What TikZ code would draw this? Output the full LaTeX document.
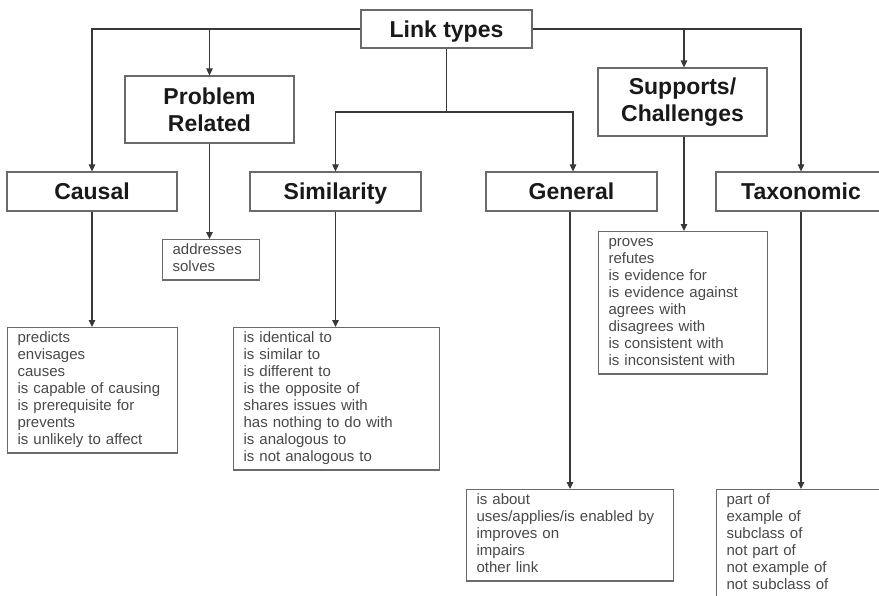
\documentclass[tikz,border=0pt]{standalone}
\usepackage{fontspec}
\setmainfont{Liberation Sans}
\usetikzlibrary{arrows.meta}
\definecolor{boxline}{HTML}{6A6A6A}
\definecolor{conline}{HTML}{383838}
\definecolor{listtext}{HTML}{484848}
\tikzset{
  head/.style={draw=boxline, line width=1.2pt, inner sep=0pt, fill=white,
    font=\fontsize{23}{27}\selectfont\bfseries, text=black!90, align=center},
  onehead/.style={head, text height=21pt, text depth=4.6pt},
  listbox/.style={draw=boxline, line width=1.2pt, anchor=north west, align=left,
    inner xsep=10pt, inner ysep=3.2pt, font=\fontsize{15}{17}\selectfont, text=listtext},
  conn/.style={draw=conline, line width=1.1pt, -{Triangle[length=7pt,width=6.5pt]}},
  plain/.style={draw=conline, line width=1.1pt}
}
\begin{document}
\begin{tikzpicture}[x=1pt,y=-1pt]
\useasboundingbox (0,0) rectangle (879,595);
\clip (0,0) rectangle (879,595);
% heading boxes
\node[onehead, minimum width=171pt, minimum height=38pt] (link) at (446.5,29) {Link types};
\node[head, minimum width=169pt, minimum height=67pt] (prob) at (209.5,109.5) {Problem\\Related};
\node[head, minimum width=169pt, minimum height=68pt] (supp) at (682.5,102) {Supports/\\Challenges};
\node[onehead, minimum width=170pt, minimum height=39pt] (causal) at (92,191.5) {Causal};
\node[onehead, minimum width=171pt, minimum height=39pt] (sim) at (335.5,191.5) {Similarity};
\node[onehead, minimum width=171pt, minimum height=39pt] (gen) at (571.5,191.5) {General};
\node[onehead, minimum width=170pt, minimum height=39pt] (tax) at (801,191.5) {Taxonomic};
% list boxes
\node[listbox, text width=77pt] (addr) at (162,239) {\strut addresses\\\strut solves};
\node[listbox, text width=150pt] (causall) at (7,327) {\strut predicts\\\strut envisages\\\strut causes\\\strut is capable of causing\\\strut is prerequisite for\\\strut prevents\\\strut is unlikely to affect};
\node[listbox, text width=186pt] (siml) at (233,327) {\strut is identical to\\\strut is similar to\\\strut is different to\\\strut is the opposite of\\\strut shares issues with\\\strut has nothing to do with\\\strut is analogous to\\\strut is not analogous to};
\node[listbox, text width=149pt] (suppl) at (598,231) {\strut proves\\\strut refutes\\\strut is evidence for\\\strut is evidence against\\\strut agrees with\\\strut disagrees with\\\strut is consistent with\\\strut is inconsistent with};
\node[listbox, text width=187pt] (genl) at (466,489) {\strut is about\\\strut uses/applies/is enabled by\\\strut improves on\\\strut impairs\\\strut other link};
\node[listbox, text width=150pt] (taxl) at (716,489) {\strut part of\\\strut example of\\\strut subclass of\\\strut not part of\\\strut not example of\\\strut not subclass of};
% branch coordinates
\coordinate (bprob) at (prob.north |- link.west);
\coordinate (bsupp) at (684,29);
\coordinate (bmid) at (link.south |- 0,112);
\coordinate (bgen) at (573,112);
% connectors
\draw[conn] (link.west) -| (causal.north);
\draw[conn] (bprob) -- (prob.north);
\draw[conn] (link.east) -| (tax.north);
\draw[conn] (bsupp) -- (bsupp |- supp.north);
\draw[plain] (link.south) -- (bmid);
\draw[conn] (bmid) -| (sim.north);
\draw[conn] (bmid) -| (bgen |- gen.north);
\draw[conn] (prob.south) -- (prob.south |- addr.north);
\draw[conn] (causal.south) -- (causal.south |- causall.north);
\draw[conn] (sim.south) -- (sim.south |- siml.north);
\draw[conn] (bsupp |- supp.south) -- (bsupp |- suppl.north);
\draw[conn] ([xshift=-1.5pt]gen.south) -- ([xshift=-1.5pt]gen.south |- genl.north);
\draw[conn] (tax.south) -- (tax.south |- taxl.north);
\end{tikzpicture}
\end{document}
